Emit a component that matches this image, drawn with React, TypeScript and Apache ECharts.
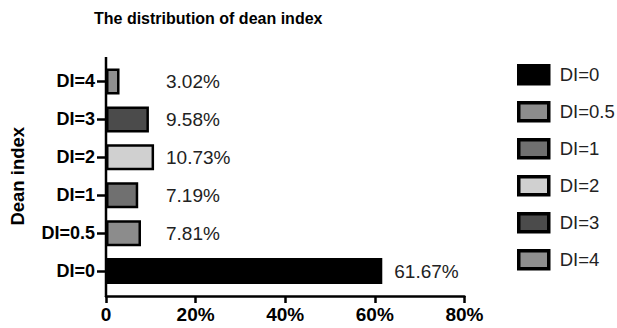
import React, { useEffect, useRef } from "react";
import * as echarts from "echarts";

const categories = ["DI=0", "DI=0.5", "DI=1", "DI=2", "DI=3", "DI=4"];
const values = [61.67, 7.81, 7.19, 10.73, 9.58, 3.02];
const colors = ["#000000", "#8c8c8c", "#707070", "#d0d0d0", "#4b4b4b", "#8f8f8f"];
const xTicks = [0, 20, 40, 60, 80];

const FONT = "'Liberation Sans', Arial, sans-serif";

export default function App() {
  const ref = useRef<HTMLDivElement>(null);
  useEffect(() => {
    if (!ref.current) return;
    const chart = echarts.init(ref.current, undefined, { renderer: "svg" });
    const series = categories.map((name, i) => ({
      name,
      type: "bar",
      stack: "all",
      barWidth: 26,
      data: categories.map((_, j) => (j === i ? values[i] : "-")),
      itemStyle: { color: colors[i], borderColor: "#000", borderWidth: 2.5 },
      label: {
        show: true,
        formatter: (p: any) => p.value.toFixed(2) + "%",
        position: i === 0 ? "right" : [60, "50%"],
        distance: 12,
        verticalAlign: "middle",
        align: "left",
        fontFamily: FONT,
        fontSize: 19,
        color: "#222",
      },
    }));
    chart.setOption({
      animation: false,
      title: {
        text: "The distribution of dean index",
        left: 89,
        top: 5,
        textStyle: { fontFamily: FONT, fontSize: 16, fontWeight: "bold", color: "#000" },
      },
      legend: {
        orient: "vertical",
        left: 517,
        top: 64,
        padding: 0,
        itemWidth: 30,
        itemHeight: 18,
        itemGap: 15.5,
        icon: "rect",
        data: categories,
        itemStyle: { borderColor: "#000", borderWidth: 3.5 },
        textStyle: { fontFamily: FONT, fontSize: 18.5, lineHeight: 18, color: "#222", padding: [0, 0, 0, 6] },
      },
      grid: { left: 106, top: 62.5, width: 358.4, height: 227.5 },
      xAxis: {
        type: "value",
        min: 0,
        max: xTicks[xTicks.length - 1],
        interval: 20,
        offset: 6,
        splitLine: { show: false },
        axisLine: { show: true, lineStyle: { color: "#000", width: 2.5 } },
        axisTick: { show: true, length: 7, lineStyle: { color: "#000", width: 2.5 } },
        axisLabel: {
          fontFamily: FONT,
          fontSize: 19,
          fontWeight: "bold",
          color: "#000",
          margin: 9,
          formatter: (v: number) => (v === 0 ? "0" : v + "%"),
        },
      },
      yAxis: {
        type: "category",
        data: categories,
        name: "Dean index",
        nameLocation: "middle",
        nameRotate: 90,
        nameGap: 79,
        nameTextStyle: { fontFamily: FONT, fontSize: 18.5, fontWeight: "bold", color: "#000" },
        axisLine: { show: false },
        axisTick: { show: true, alignWithLabel: true, length: 9, lineStyle: { color: "#000", width: 2.5 } },
        axisLabel: { fontFamily: FONT, fontSize: 18, fontWeight: "bold", color: "#000", margin: 11 },
      },
      graphic: [
        {
          type: "line",
          shape: { x1: 106, y1: 57, x2: 106, y2: 297 },
          style: { stroke: "#000", lineWidth: 2.5 },
        },
      ],
      series,
    });
    return () => chart.dispose();
  }, []);
  return (
    <div
      ref={ref}
      style={{ position: "fixed", left: 0, top: 0, width: 617, height: 328, background: "#fff" }}
    />
  );
}
